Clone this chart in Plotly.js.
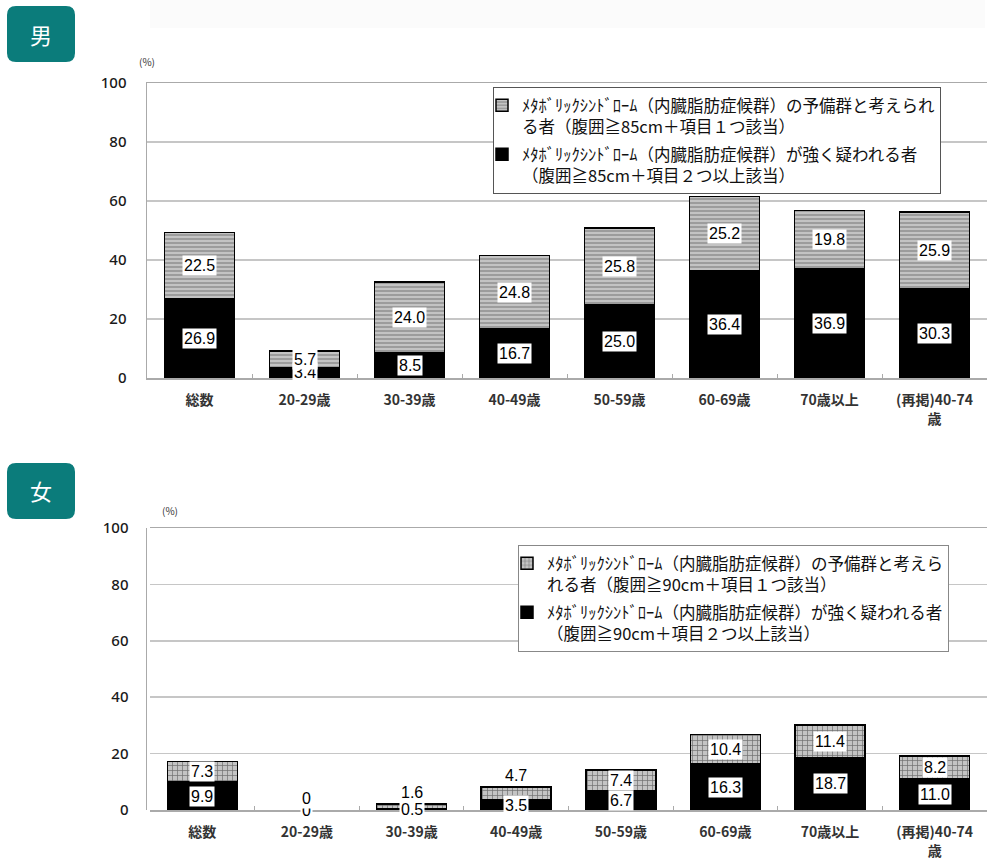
<!DOCTYPE html>
<html><head><meta charset="utf-8">
<script src="https://cdn.plot.ly/plotly-3.0.1.min.js"></script>
<style>html,body{margin:0;padding:0;overflow:hidden;background:#fff}</style>
</head><body><div id="chart" style="width:987px;height:865px"></div>
<script>
const categories = ['総数','20-29歳','30-39歳','40-49歳','50-59歳','60-69歳','70歳以上','(再掲)40-74<br>歳'];
const maleStrong   = [26.9, 3.4, 8.5, 16.7, 25.0, 36.4, 36.9, 30.3];
const maleReserve  = [22.5, 5.7, 24.0, 24.8, 25.8, 25.2, 19.8, 25.9];
const femaleStrong  = [9.9, 0, 0.5, 3.5, 6.7, 16.3, 18.7, 11.0];
const femaleReserve = [7.3, 0, 1.6, 4.7, 7.4, 10.4, 11.4, 8.2];
const maleLegend = ['ﾒﾀﾎﾞﾘｯｸｼﾝﾄﾞﾛｰﾑ（内臓脂肪症候群）の予備群と考えられ<br>る者（腹囲≧85cm＋項目１つ該当）',
                    'ﾒﾀﾎﾞﾘｯｸｼﾝﾄﾞﾛｰﾑ（内臓脂肪症候群）が強く疑われる者<br>（腹囲≧85cm＋項目２つ以上該当）'];
const femaleLegend = ['ﾒﾀﾎﾞﾘｯｸｼﾝﾄﾞﾛｰﾑ（内臓脂肪症候群）の予備群と考えら<br>れる者（腹囲≧90cm＋項目１つ該当）',
                      'ﾒﾀﾎﾞﾘｯｸｼﾝﾄﾞﾛｰﾑ（内臓脂肪症候群）が強く疑われる者<br>（腹囲≧90cm＋項目２つ以上該当）'];

const W = 987, H = 865;
const JP = '"Noto Sans CJK JP", "Noto Sans", sans-serif';
const topDom = [1 - 378/H, 1 - 83/H];
const botDom = [1 - 810/H, 1 - 528/H];
function lineFor(vals){ return {color:'#000', width: vals.map(v => v === 0 ? 0 : 1.5)}; }
const topPattern = {shape:'-', bgcolor:'#9c9c9c', fgcolor:'#dedede', size:4, solidity:0.3};
const botPattern = {shape:'+', bgcolor:'#c4c4c4', fgcolor:'#6e6e6e', size:5, solidity:0.25};

const traces = [
  {type:'bar', x:categories, y:maleStrong, name:maleLegend[1], xaxis:'x', yaxis:'y', legend:'legend', legendgroup:'m1', legendrank:2,
   marker:{color:'#000', line:lineFor(maleStrong)}, width:0.67},
  {type:'bar', x:categories, y:maleReserve, name:maleLegend[0], xaxis:'x', yaxis:'y', legend:'legend', legendgroup:'m2', legendrank:1,
   marker:{color:'#9c9c9c', pattern:topPattern, line:lineFor(maleReserve)}, width:0.67},
  {type:'bar', x:categories, y:femaleStrong, name:femaleLegend[1], xaxis:'x2', yaxis:'y2', legend:'legend2', legendgroup:'f1', legendrank:2,
   marker:{color:'#000', line:lineFor(femaleStrong)}, width:0.67},
  {type:'bar', x:categories, y:femaleReserve, name:femaleLegend[0], xaxis:'x2', yaxis:'y2', legend:'legend2', legendgroup:'f2', legendrank:1,
   marker:{color:'#c4c4c4', pattern:botPattern, line:lineFor(femaleReserve)}, width:0.67}
];

function fmt(v){ return v === 0 ? '0' : v.toFixed(1); }
const annotations = [];
const labelFont = {family:'"Liberation Sans", Arial, sans-serif', size:16, color:'#000'};
function addLabels(strong, reserve, xr, yr, dom){
  const ppu = (dom[1]-dom[0]) * H / 100;
  for (let i = 0; i < categories.length; i++) {
    annotations.push({xref:xr, yref:yr, x:i, y:strong[i]/2, xanchor:'center', yanchor:'middle',
      text:fmt(strong[i]), showarrow:false, bgcolor:'#fff', borderpad:1, font:labelFont});
    const small = reserve[i]*ppu < 15;
    annotations.push({xref:xr, yref:yr, x:i, xanchor:'center',
      y: small ? strong[i]+reserve[i] : strong[i]+reserve[i]/2,
      yanchor: small ? 'bottom' : 'middle', yshift: small ? 1 : 0,
      text:fmt(reserve[i]), showarrow:false, bgcolor:'#fff', borderpad:1, font:labelFont});
  }
}
addLabels(maleStrong, maleReserve, 'x', 'y', topDom);
addLabels(femaleStrong, femaleReserve, 'x2', 'y2', botDom);

function paperText(px, py, text, size, color){
  annotations.push({xref:'paper', yref:'paper', x:px/W, y:1-py/H, xanchor:'center', yanchor:'middle',
    text:text, showarrow:false, font:{family:JP, size:size, color:color}});
}
paperText(41, 34, '男', 22, '#fff');
paperText(41, 490, '女', 22, '#fff');
paperText(147, 62, '(%)', 10, '#333');
paperText(170, 510, '(%)', 10, '#333');

function badge(yTopPx){
  const w = 68, h = 56, r = 9;
  return {type:'path', xref:'paper', yref:'paper', xsizemode:'pixel', ysizemode:'pixel',
    xanchor:7/W, yanchor:1-(yTopPx+h)/H,
    path:`M ${r},0 L ${w-r},0 Q ${w},0 ${w},${r} L ${w},${h-r} Q ${w},${h} ${w-r},${h} L ${r},${h} Q 0,${h} 0,${h-r} L 0,${r} Q 0,0 ${r},0 Z`,
    fillcolor:'#0b7c7b', line:{width:0}};
}
const shapes = [
  {type:'rect', xref:'paper', yref:'paper', x0:150/W, x1:985/W, y0:1-28/H, y1:1, fillcolor:'#fbfbfb', line:{width:0}, layer:'below'},
  badge(6), badge(463)
];

function yax(dom, standoff){
  return {domain:dom, range:[0,100], dtick:20, tick0:0, showgrid:true, gridcolor:'#c6c6c6', gridwidth:1.5,
    showline:true, linecolor:'#aaaaaa', linewidth:1.5, mirror:true, ticks:'', zeroline:false,
    ticklabelstandoff:standoff, fixedrange:true,
    tickfont:{family:'"Noto Sans", sans-serif', size:15, color:'#1a1a1a', weight:500}};
}
function xax(dom, anchor){
  return {domain:dom, anchor:anchor, type:'category', range:[-0.5,7.5], showline:true, linecolor:'#aaaaaa', linewidth:1.5,
    mirror:true, ticks:'inside', tickson:'boundaries', ticklen:4, tickcolor:'#aaaaaa', ticklabelstandoff:9,
    tickfont:{family:JP, size:14, color:'#333', weight:'bold'}, fixedrange:true};
}
function leg(px, py, bc){
  return {x:px/W, y:1-py/H, xanchor:'left', yanchor:'top', traceorder:'grouped', tracegroupgap:3,
    indentation:-12, valign:'top', bgcolor:'#fff', bordercolor:bc, borderwidth:1,
    font:{family:JP, size:16.5, color:'#111'}, itemclick:false};
}
const layout = {
  width:W, height:H, margin:{l:0,r:0,t:0,b:0}, paper_bgcolor:'#fff', plot_bgcolor:'#fff',
  barmode:'stack', showlegend:true,
  xaxis: xax([147/W, 1], 'y'),
  yaxis: yax(topDom, 16),
  xaxis2: xax([150/W, 1], 'y2'),
  yaxis2: yax(botDom, 14),
  legend: leg(493, 87, '#555'),
  legend2: leg(518, 545, '#888'),
  annotations:annotations, shapes:shapes
};
Plotly.newPlot('chart', traces, layout, {displayModeBar:false, staticPlot:true});
</script></body></html>
